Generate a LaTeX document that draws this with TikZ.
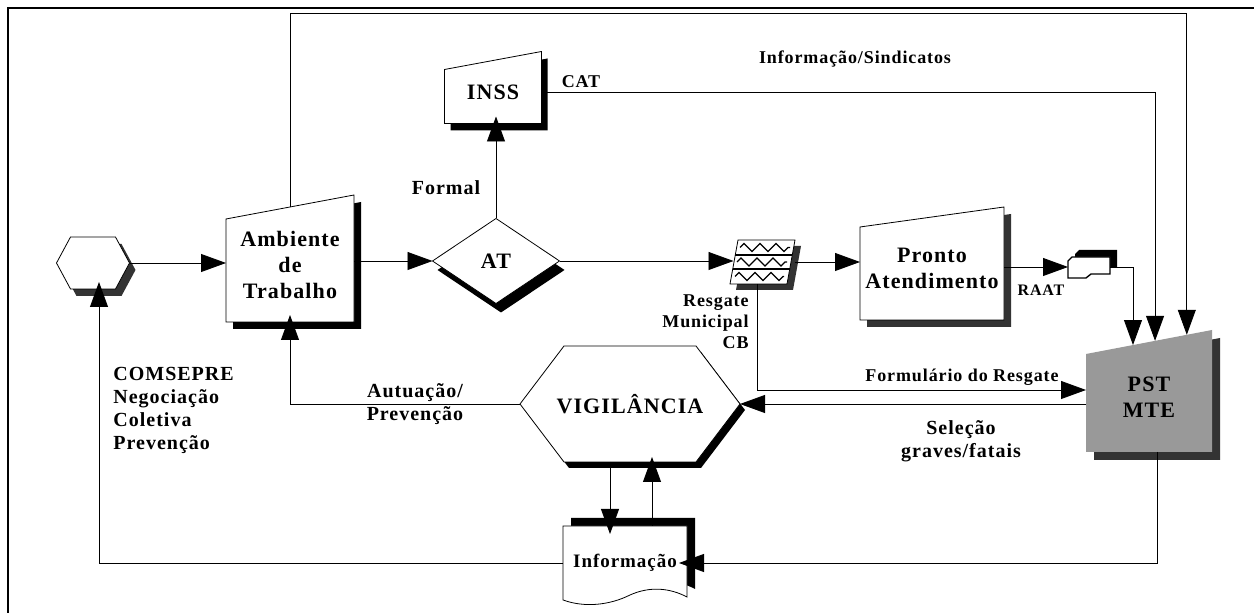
\documentclass[tikz,border=0pt]{standalone}
\usepackage{fontspec}
\setmainfont{Liberation Serif}[LetterSpace=5]
\usepackage{tikz}
\usetikzlibrary{calc,arrows.meta,backgrounds,decorations.pathmorphing}

% outline paths built on the anchors of a plain node
\newcommand{\mipath}[3]{([shift={#3}]#1.south west) -- ([shift={#3},yshift=-#2]#1.north west) -- ([shift={#3},yshift=#2]#1.north east) -- ([shift={#3}]#1.south east) -- cycle}
\newcommand{\hexpath}[3]{([shift={#3}]#1.west) -- ([shift={#3},xshift=#2]#1.north west) -- ([shift={#3},xshift=-#2]#1.north east) -- ([shift={#3}]#1.east) -- ([shift={#3},xshift=-#2]#1.south east) -- ([shift={#3},xshift=#2]#1.south west) -- cycle}
\newcommand{\diapath}[2]{([shift={#2}]#1.west) -- ([shift={#2}]#1.north) -- ([shift={#2}]#1.east) -- ([shift={#2}]#1.south) -- cycle}
\newcommand{\docpath}{(-62,-37) -- (62,-37) -- (62,34) .. controls (45,25) and (25,23) .. (5,32) .. controls (-15,42) and (-40,45) .. (-62,37) -- cycle}
\newcommand{\cardpath}{(-21,-6) -- (-17,-10) -- (21,-10) -- (21,7) -- (2,7) -- (-3,11) -- (-21,11) -- cycle}
\newcommand{\tapepath}{(-32,22) -- (-24,-22) -- (33,-22) -- (25,22) -- cycle}

\begin{document}
\begin{tikzpicture}[
    x=0.5pt, y=-0.5pt, line width=0.9pt,
    blk/.style={inner sep=0pt, outer sep=0pt, align=center, font=\bfseries\fontsize{11}{13}\selectfont},
    lbl/.style={inner sep=0pt, align=center, font=\bfseries\fontsize{10}{11.5}\selectfont},
    lbls/.style={inner sep=0pt, align=center, font=\bfseries\fontsize{9}{10.5}\selectfont},
    dark/.style={fill=black!80},
    >={Triangle[length=12.5pt,width=9pt]}
]
    \useasboundingbox (0,0) rectangle (1254,613);
    \draw (8,640) -- (8,8) -- (1280,8);

    % Nodes
    \node[blk, minimum width=36.5pt, minimum height=26pt] (start) at (93,263) {};
    \node[blk, minimum width=64pt, minimum height=57.5pt] (amb) at (290,264.5) {Ambiente\\de\\Trabalho};
    \node[blk, minimum width=48.5pt, minimum height=31.5pt] (inss) at (493,92) {INSS};
    \node[blk, minimum width=63.5pt, minimum height=42.5pt] (at) at (496,261) {AT};
    \node[blk, minimum width=32.5pt, minimum height=22pt] (tape) at (762,262) {};
    \node[blk, minimum width=72pt, minimum height=51.5pt] (pronto) at (932,268.5) {Pronto\\Atendimento};
    \node[blk, minimum width=21pt, minimum height=11pt] (card) at (1089,267) {};
    \node[blk, minimum width=63pt, minimum height=55pt] (pst) at (1149,397) {PST\\MTE};
    \node[blk, minimum width=110pt, minimum height=58pt] (vig) at (630,404) {VIGILÂNCIA};
    \node[blk, minimum width=62pt, minimum height=37pt, font=\bfseries\fontsize{9.5}{11}\selectfont] (info) at (625,563) {Informação};

    % Shapes and shadows
    \begin{pgfonlayer}{background}
        \fill[dark] \hexpath{start}{7pt}{(6,7)};
        \draw[fill=white] \hexpath{start}{7pt}{(0,0)};
        \fill[black] \mipath{amb}{6pt}{(7,7)};
        \draw[fill=white] \mipath{amb}{6pt}{(0,0)};
        \fill[black] \mipath{inss}{4.5pt}{(6,7)};
        \draw[fill=white] \mipath{inss}{4.5pt}{(0,0)};
        \fill[black] \diapath{at}{(5,9)};
        \draw[fill=white] \diapath{at}{(0,0)};
        \fill[dark] \mipath{pronto}{5pt}{(7,7)};
        \draw[fill=white] \mipath{pronto}{5pt}{(0,0)};
        \fill[dark] \mipath{pst}{6pt}{(8,8)};
        \fill[black!40] \mipath{pst}{6pt}{(0,0)};
        \fill[black] \hexpath{vig}{22pt}{(5,6)};
        \draw[fill=white] \hexpath{vig}{22pt}{(0,0)};
        \begin{scope}[shift={(info.center)}]
            \fill[black, shift={(8,-8)}] \docpath;
            \draw[fill=white] \docpath;
        \end{scope}
        \begin{scope}[shift={(card.center)}]
            \fill[black, shift={(7,-7)}] \cardpath;
            \draw[fill=white, line width=0.7pt] \cardpath;
        \end{scope}
        \begin{scope}[shift={(tape.center)}]
            \fill[dark, shift={(6,6)}] \tapepath;
            \draw[fill=white] \tapepath;
            \draw[line width=0.6pt] (-26.7,-7) -- (30.3,-7) (-29.3,7) -- (27.7,7);
            \foreach \ya/\xa/\xb in {-14.5/-22/28, 0/-25/25, 14.5/-27/22}
                \draw[line width=0.6pt, decorate, decoration={zigzag, segment length=8pt, amplitude=2pt}] (\xa,\ya) -- (\xb,\ya);
        \end{scope}
    \end{pgfonlayer}

    % Entry points on the slanted top of PST
    \coordinate (pstTL) at ([yshift=-6pt]pst.north west);
    \coordinate (pstTR) at ([yshift=6pt]pst.north east);
    \coordinate (pin1) at ($(pstTL)!0.373!(pstTR)$);
    \coordinate (pin2) at ($(pstTL)!0.548!(pstTR)$);
    \coordinate (pin3) at ($(pstTL)!0.80!(pstTR)$);
    \coordinate (formrow) at (0,390);

    % Connectors
    \draw[->] (start.east) -- (start.east -| amb.west);
    \draw[->] (amb.east |- at.west) -- (at.west);
    \draw[->, shorten >=-3.5pt] (at.north) -- (at.north |- inss.south);
    \draw[->, shorten >=-2pt] (at.east) -- (at.east -| tape.west);
    \draw[->] (tape.east) -- (tape.east -| pronto.west);
    \draw[->] (pronto.east |- card.west) -- (card.west);
    \draw[->] (card.east) -| (pin1);
    \draw[->] (inss.east) -| (pin2);
    \draw[->] (amb.north) -- ++(0,-194) -| (pin3);
    \draw[->] ($(tape.south)+(-5,0)$) |- (pst.west |- formrow);
    \draw[->] (pst.west |- vig.east) -- (vig.east);
    \draw[->, shorten >=-3.5pt] (vig.west) -| (amb.south);
    \draw[->, shorten >=-4pt] ([xshift=-10pt]vig.south) -- ([xshift=-10pt]vig.south |- info.north);
    \draw[->, shorten >=-2.5pt] ([xshift=11pt]vig.south |- info.north) -- ([xshift=11pt]vig.south);
    \draw[->, shorten >=-3.5pt] (info.west) -| ([xshift=3pt]start.south);
    \draw[->, shorten >=-4pt] ([xshift=4pt]pst.south) |- (info.east);

    % Labels
    \node[lbls] (lsind) at (855,59) {Informação/Sindicatos};
    \node[lbls] (lcat) at (581,82) {CAT};
    \node[lbl] (lformal) at (446,188) {Formal};
    \node[lbls, align=right, anchor=east] (lresg) at (749,322) {Resgate\\Municipal\\CB};
    \node[lbls, font=\bfseries\fontsize{8}{9}\selectfont] (lraat) at (1041,290) {RAAT};
    \node[lbls] (lform) at (962,377) {Formulário do Resgate};
    \node[lbl] (lsel) at (961,441) {Seleção\\graves/fatais};
    \node[lbl] (laut) at (415,404) {Autuação/\\Prevenção};
    \node[lbl, align=left, anchor=west] (lcom) at (113,410) {COMSEPRE\\Negociação\\Coletiva\\Prevenção};
\end{tikzpicture}
\end{document}
